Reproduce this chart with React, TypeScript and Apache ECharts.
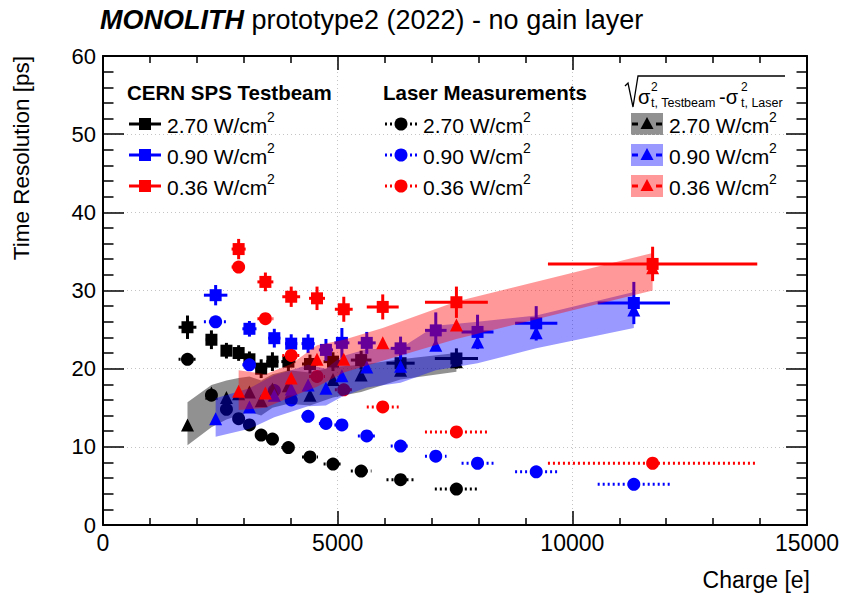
import React, { useEffect, useRef } from "react";
import * as echarts from "echarts";

const FONT = "'Liberation Sans', Arial, Helvetica, sans-serif";

// axes
const xMin = 0, xMax = 15000, xInterval = 5000;
const yMin = 0, yMax = 60, yInterval = 10;

// ---------- 2.70 W/cm2 ----------
const q270 = [1800, 2310, 2630, 2890, 3120, 3370, 3610, 3950, 4410, 4900, 5500, 6340, 7530];
const q270Err = [190, 120, 110, 110, 110, 120, 130, 150, 170, 200, 220, 300, 460];
const tb270 = [25.3, 23.7, 22.3, 22.0, 21.2, 20.0, 20.9, 20.9, 20.6, 20.9, 21.1, 20.7, 21.3];
const tb270Err = [1.5, 1.2, 1.0, 1.0, 1.0, 1.2, 1.2, 1.2, 1.2, 1.2, 1.2, 1.3, 1.3];
const laser270 = [21.2, 16.6, 14.8, 13.6, 12.8, 11.5, 11.0, 9.9, 8.7, 7.8, 6.9, 5.8, 4.6];
const diff270 = [12.8, 16.9, 16.3, 16.8, 17.0, 15.9, 17.4, 17.8, 16.6, 18.6, 19.2, 19.8, 20.9];
const diff270Lo = [10.2, 12.5, 13.5, 14.0, 14.5, 14.0, 15.0, 15.5, 15.3, 16.3, 17.0, 18.6, 19.6];
const diff270Hi = [15.7, 17.9, 18.5, 18.8, 19.0, 18.5, 19.3, 19.8, 19.5, 20.2, 20.5, 21.2, 22.0];

// ---------- 0.90 W/cm2 ----------
const q090 = [2400, 3120, 3650, 4010, 4370, 4750, 5090, 5620, 6340, 7090, 7980, 9230, 11310];
const q090Err = [250, 150, 130, 130, 140, 150, 160, 190, 210, 230, 340, 450, 770];
const tb090 = [29.4, 25.1, 23.9, 23.2, 23.2, 22.4, 23.3, 23.3, 22.6, 24.9, 24.7, 25.8, 28.4];
const tb090Err = [1.3, 1.0, 1.2, 1.2, 1.2, 1.4, 1.9, 1.4, 1.5, 2.3, 2.2, 2.2, 2.7];
const laser090 = [26.0, 20.5, 17.2, 16.0, 13.9, 13.0, 12.8, 11.4, 10.1, 8.8, 7.9, 6.8, 5.2];
const diff090 = [13.6, 15.1, 16.6, 17.4, 17.9, 17.5, 19.1, 20.2, 20.3, 23.0, 23.4, 24.6, 27.5];
const diff090Lo = [11.3, 12.3, 13.8, 14.5, 15.2, 15.3, 16.4, 17.6, 18.2, 19.8, 20.7, 22.6, 25.2];
const diff090Hi = [16.2, 17.5, 19.2, 19.8, 20.5, 20.0, 21.6, 22.5, 22.6, 25.5, 26.0, 26.8, 29.8];

// ---------- 0.36 W/cm2 ----------
const q036 = [2890, 3460, 4010, 4560, 5130, 5960, 7530, 11710];
const q036Err = [150, 170, 190, 170, 190, 340, 670, 2230];
const tb036 = [35.3, 31.1, 29.2, 29.0, 27.6, 27.9, 28.5, 33.4];
const tb036Err = [1.3, 1.2, 1.3, 1.5, 1.6, 1.6, 2.0, 2.2];
const laser036 = [33.0, 26.4, 21.7, 19.0, 17.3, 15.1, 11.9, 7.9];
const diff036 = [17.1, 16.9, 18.8, 21.2, 21.2, 23.3, 25.6, 32.9];
const diff036Lo = [14.7, 15.0, 16.4, 17.7, 19.5, 21.0, 23.8, 30.0];
const diff036Hi = [19.8, 19.3, 20.6, 23.0, 23.7, 25.2, 28.6, 34.8];

// legend labels
const powerLabels = ["2.70", "0.90", "0.36"];
const colors = ["#000000", "#0000ff", "#ff0000"];
const bandFills = ["rgba(0,0,0,0.43)", "rgba(0,0,255,0.4)", "rgba(255,0,0,0.4)"];

const zip = (xs: number[], ys: number[], ex?: number[], ey?: number[]) =>
  xs.map((x, i) => [x, ys[i], ex ? ex[i] : 0, ey ? ey[i] : 0]);

function errRender(color: string, dash: number[] | null, width: number) {
  return (params: any, api: any) => {
    const x = api.value(0), y = api.value(1), ex = api.value(2), ey = api.value(3);
    const style: any = { stroke: color, lineWidth: width, fill: null };
    if (dash) style.lineDash = dash;
    const children: any[] = [];
    if (ex > 0) {
      const l = api.coord([x - ex, y]);
      const r = api.coord([x + ex, y]);
      children.push({ type: "line", shape: { x1: l[0], y1: l[1], x2: r[0], y2: r[1] }, style });
    }
    if (ey > 0) {
      const t = api.coord([x, y + ey]);
      const b = api.coord([x, y - ey]);
      children.push({ type: "line", shape: { x1: t[0], y1: t[1], x2: b[0], y2: b[1] }, style });
    }
    return { type: "group", children };
  };
}

function bandRender(xs: number[], lo: number[], hi: number[], fill: string) {
  return (params: any, api: any) => {
    const pts: number[][] = [];
    for (let i = 0; i < xs.length; i++) pts.push(api.coord([xs[i], hi[i]]));
    for (let i = xs.length - 1; i >= 0; i--) pts.push(api.coord([xs[i], lo[i]]));
    return { type: "polygon", shape: { points: pts }, style: { fill, stroke: null } };
  };
}

let zc = 3;
const errSeries = (data: any[], color: string, dash: number[] | null, width: number) => ({
  type: "custom",
  coordinateSystem: "cartesian2d",
  renderItem: errRender(color, dash, width),
  data,
  encode: { x: 0, y: 1 },
  silent: true,
  z: zc++,
});
const markSeries = (xs: number[], ys: number[], symbol: string, size: number, color: string) => ({
  type: "scatter",
  data: xs.map((x, i) => [x, ys[i]]),
  symbol,
  symbolSize: size,
  itemStyle: { color, opacity: 1 },
  silent: true,
  z: zc++,
});
const bandSeries = (xs: number[], lo: number[], hi: number[], fill: string) => ({
  type: "custom",
  coordinateSystem: "cartesian2d",
  renderItem: bandRender(xs, lo, hi, fill),
  data: [[xs[0], lo[0]]],
  encode: { x: 0, y: 1 },
  silent: true,
  z: zc++,
});

function text(x: number, y: number, str: string, size: number, extra: any = {}) {
  return {
    type: "text",
    x,
    y,
    silent: true,
    rotation: extra.rotation || 0,
    style: {
      text: str,
      fill: "#000",
      fontSize: size,
      fontFamily: FONT,
      fontWeight: extra.weight || "normal",
      fontStyle: extra.style || "normal",
      align: extra.align || "left",
      textAlign: extra.align || "left",
      verticalAlign: "middle",
      textVerticalAlign: "middle",
    },
  };
}

function buildGraphics() {
  const g: any[] = [];
  // title
  g.push({
    type: "text",
    x: 100,
    y: 20,
    silent: true,
    style: {
      text: "{b|MONOLITH} {r|prototype2 (2022) - no gain layer}",
      fontSize: 27,
      fontFamily: FONT,
      fill: "#000",
      verticalAlign: "middle",
      textVerticalAlign: "middle",
      rich: {
        b: { fontSize: 27, fontFamily: FONT, fontWeight: "bold", fontStyle: "italic", fill: "#000" },
        r: { fontSize: 27, fontFamily: FONT, fill: "#000" },
      },
    },
  });
  // axis titles
  g.push(text(21, 56, "Time Resolution [ps]", 22.5, { rotation: Math.PI / 2, align: "right" }));
  g.push(text(810, 580, "Charge [e]", 23, { align: "right" }));

  // legend headers
  g.push(text(127, 92, "CERN SPS Testbeam", 20.5, { weight: "bold" }));
  g.push(text(383, 92, "Laser Measurements", 20.5, { weight: "bold" }));
  // sqrt header
  g.push({
    type: "polyline",
    silent: true,
    shape: { points: [[625, 86], [628, 83], [633, 107], [638, 76], [785, 76]] },
    style: { stroke: "#000", lineWidth: 1.3, fill: null },
  });
  g.push(text(638, 97, "σ", 20));
  g.push(text(651, 87, "2", 12));
  g.push(text(651, 103, "t, Testbeam", 12.5));
  g.push(text(719, 97, "-σ", 20));
  g.push(text(741, 87, "2", 12));
  g.push(text(741, 103, "t, Laser", 12.5));

  const rowY = [124, 155, 186];
  for (let i = 0; i < 3; i++) {
    const y = rowY[i];
    const c = colors[i];
    // testbeam
    g.push({ type: "line", silent: true, shape: { x1: 129, y1: y, x2: 161, y2: y }, style: { stroke: c, lineWidth: 3 } });
    g.push({ type: "rect", silent: true, shape: { x: 139, y: y - 6, width: 12, height: 12 }, style: { fill: c } });
    g.push(text(167, y + 1, `${powerLabels[i]} W/cm`, 21));
    g.push(text(267, y - 7, "2", 14));
    // laser
    g.push({ type: "line", silent: true, shape: { x1: 385, y1: y, x2: 417, y2: y }, style: { stroke: c, lineWidth: 3, lineDash: [2, 3] } });
    g.push({ type: "circle", silent: true, shape: { cx: 401, cy: y, r: 6.5 }, style: { fill: c } });
    g.push(text(423, y + 1, `${powerLabels[i]} W/cm`, 21));
    g.push(text(523, y - 7, "2", 14));
    // difference
    g.push({ type: "rect", silent: true, shape: { x: 631, y: y - 11, width: 32, height: 22 }, style: { fill: bandFills[i] } });
    g.push({ type: "line", silent: true, shape: { x1: 632, y1: y, x2: 638, y2: y }, style: { stroke: c, lineWidth: 3 } });
    g.push({ type: "line", silent: true, shape: { x1: 656, y1: y, x2: 662, y2: y }, style: { stroke: c, lineWidth: 3 } });
    g.push({ type: "polygon", silent: true, shape: { points: [[647, y - 7], [653.5, y + 5], [640.5, y + 5]] }, style: { fill: c } });
    g.push(text(669, y + 1, `${powerLabels[i]} W/cm`, 21));
    g.push(text(769, y - 7, "2", 14));
  }
  return g;
}

function buildOption() {
  zc = 3;
  const series: any[] = [];
  // test beam (solid error bars + squares)
  series.push(errSeries(zip(q270, tb270, q270Err, tb270Err), colors[0], null, 3));
  series.push(markSeries(q270, tb270, "rect", 12, colors[0]));
  series.push(errSeries(zip(q090, tb090, q090Err, tb090Err), colors[1], null, 3));
  series.push(markSeries(q090, tb090, "rect", 12, colors[1]));
  series.push(errSeries(zip(q036, tb036, q036Err, tb036Err), colors[2], null, 3));
  series.push(markSeries(q036, tb036, "rect", 12, colors[2]));
  // laser (dotted x error bars + circles)
  series.push(errSeries(zip(q270, laser270, q270Err), colors[0], [2, 3], 3));
  series.push(markSeries(q270, laser270, "circle", 13, colors[0]));
  series.push(errSeries(zip(q090, laser090, q090Err), colors[1], [2, 3], 3));
  series.push(markSeries(q090, laser090, "circle", 13, colors[1]));
  series.push(errSeries(zip(q036, laser036, q036Err), colors[2], [2, 3], 3));
  series.push(markSeries(q036, laser036, "circle", 13, colors[2]));
  // quadratic difference: bands + triangles
  series.push(bandSeries(q270, diff270Lo, diff270Hi, bandFills[0]));
  series.push(markSeries(q270, diff270, "triangle", 13, colors[0]));
  series.push(bandSeries(q090, diff090Lo, diff090Hi, bandFills[1]));
  series.push(markSeries(q090, diff090, "triangle", 13, colors[1]));
  series.push(bandSeries(q036, diff036Lo, diff036Hi, bandFills[2]));
  series.push(markSeries(q036, diff036, "triangle", 13, colors[2]));

  const axisLine = { show: true, onZero: false, lineStyle: { color: "#000", width: 2 } };
  const xTick = { show: true, inside: true, length: 14, lineStyle: { color: "#000", width: 1.5 } };
  const xMinor = { show: true, splitNumber: 5, length: 7, lineStyle: { color: "#000", width: 1.5 } };
  const yTick = { show: true, inside: true, length: 21, lineStyle: { color: "#000", width: 1.5 } };
  const yMinor = { show: true, splitNumber: 5, length: 10.5, lineStyle: { color: "#000", width: 1.5 } };
  const grid = { show: true, lineStyle: { color: "#c4c4c4", type: [1, 3], width: 1 } };
  const label = { color: "#000", fontSize: 22, fontFamily: FONT, formatter: (v: number) => String(v) };

  return {
    animation: false,
    backgroundColor: "#fff",
    grid: { left: 103, right: 32, top: 56, bottom: 74, containLabel: false },
    xAxis: [
      { type: "value", min: xMin, max: xMax, interval: xInterval, position: "bottom", axisLine, axisTick: xTick, minorTick: xMinor, splitLine: grid, axisLabel: { ...label, fontSize: 23, margin: 6 } },
      { type: "value", min: xMin, max: xMax, interval: xInterval, position: "top", axisLine, axisTick: xTick, minorTick: xMinor, splitLine: { show: false }, axisLabel: { show: false } },
    ],
    yAxis: [
      { type: "value", min: yMin, max: yMax, interval: yInterval, position: "left", axisLine, axisTick: yTick, minorTick: yMinor, splitLine: grid, axisLabel: { ...label, margin: 7 } },
      { type: "value", min: yMin, max: yMax, interval: yInterval, position: "right", axisLine, axisTick: yTick, minorTick: yMinor, splitLine: { show: false }, axisLabel: { show: false } },
    ],
    series,
    graphic: buildGraphics(),
  };
}

export default function App() {
  const ref = useRef<HTMLDivElement>(null);
  useEffect(() => {
    if (!ref.current) return;
    const chart = echarts.init(ref.current, null, { renderer: "svg" });
    chart.setOption(buildOption() as any);
    return () => chart.dispose();
  }, []);
  return (
    <div
      ref={ref}
      style={{ position: "absolute", left: 0, top: 0, width: 842, height: 599, background: "#fff" }}
    />
  );
}
